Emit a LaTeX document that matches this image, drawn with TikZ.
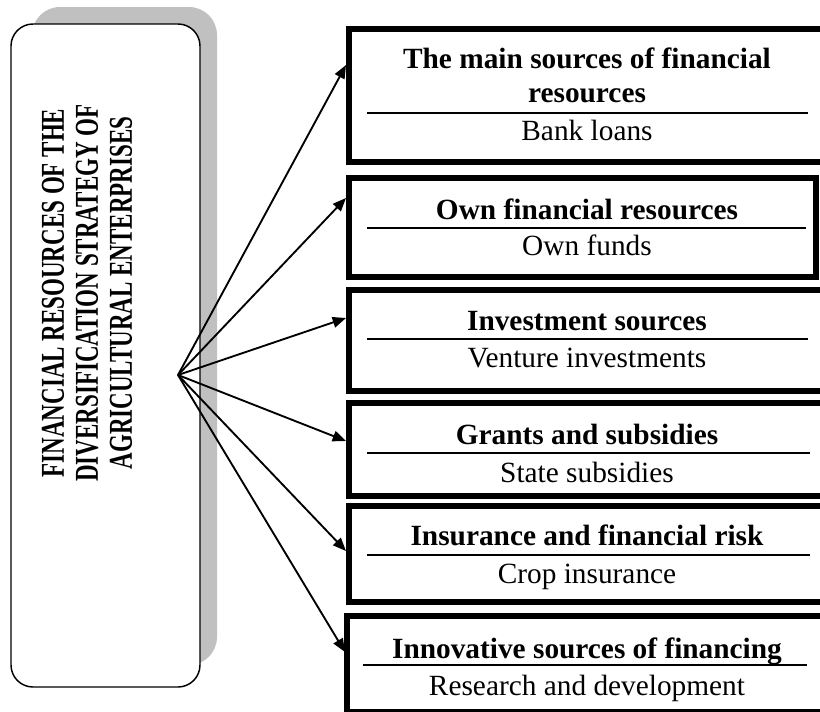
\documentclass[tikz,border=0pt]{standalone}
\usepackage{fontspec}
\setmainfont{Liberation Serif}
\usetikzlibrary{arrows.meta}
\begin{document}
\begin{tikzpicture}[x=0.75pt,y=-0.75pt,
  rbox/.style={draw, line width=4.5pt, inner sep=0pt, outer sep=0pt},
  ttl/.style={font=\fontsize{22}{25.5}\selectfont\bfseries, anchor=base, inner sep=0pt, align=center},
  sub/.style={font=\fontsize{22}{25.5}\selectfont, anchor=base, inner sep=0pt},
  divline/.style={line width=1.2pt},
  arr/.style={line width=1.4pt, -{Triangle[length=10pt,width=8pt]}},
  shadowbox/.style={fill={rgb,255:red,192;green,192;blue,192}, rounded corners=21pt, inner sep=0pt, outer sep=0pt},
  mainbox/.style={draw, fill=white, line width=1.1pt, rounded corners=16.5pt, inner sep=0pt, outer sep=0pt},
]
\useasboundingbox (0,0) rectangle (820,711);
\fill[white] (0,0) rectangle (820,711);
\clip (0,0) rectangle (820,711);

% left box with shadow
\node[shadowbox, minimum width=185*0.75pt, minimum height=658*0.75pt] (shadow) at (124.5,336) {};
\node[mainbox, minimum width=189*0.75pt, minimum height=663*0.75pt] (main) at (105.5,355.5) {};
\node[rotate=90, inner sep=0pt] (maintext) at (91,293) {\scalebox{0.69}[1]{\fontsize{25}{25.5}\selectfont\bfseries\setlength{\tabcolsep}{0pt}\begin{tabular}{c}FINANCIAL RESOURCES OF THE\\DIVERSIFICATION STRATEGY OF\\AGRICULTURAL ENTERPRISES\end{tabular}}};

% right boxes
\node[rbox, minimum width=481*0.75pt, minimum height=133*0.75pt] (b1) at (589.5,95.5) {};
\node[rbox, minimum width=467*0.75pt, minimum height=98.5*0.75pt] (b2) at (582.5,227.25) {};
\node[rbox, minimum width=481*0.75pt, minimum height=101*0.75pt] (b3) at (589.5,340.5) {};
\node[rbox, minimum width=481*0.75pt, minimum height=93*0.75pt] (b4) at (589.5,449.5) {};
\node[rbox, minimum width=481*0.75pt, minimum height=96*0.75pt] (b5) at (589.5,553.5) {};
\node[rbox, minimum width=483*0.75pt, minimum height=96.5*0.75pt] (b6) at (588.5,663.75) {};

% texts
\node[ttl] (t1a) at (587,68) {The main sources of financial};
\node[ttl] (t1b) at (587,102) {resources};
\node[sub] (s1) at (587,140) {Bank loans};
\node[ttl] (t2) at (587,219) {Own financial resources};
\node[sub] (s2) at (587,255) {Own funds};
\node[ttl] (t3) at (587,330) {Investment sources};
\node[sub] (s3) at (587,367) {Venture investments};
\node[ttl] (t4) at (587,444) {Grants and subsidies};
\node[sub] (s4) at (587,482) {State subsidies};
\node[ttl] (t5) at (587,545) {Insurance and financial risk};
\node[sub] (s5) at (587,583) {Crop insurance};
\node[ttl] (t6) at (587,658) {Innovative sources of financing};
\node[sub] (s6) at (587,695) {Research and development};

% dividers
\coordinate (d1l) at (367,113); \coordinate (d1r) at (808,113);
\coordinate (d2l) at (367,228); \coordinate (d2r) at (806,228);
\coordinate (d3l) at (367,339); \coordinate (d3r) at (808,339);
\coordinate (d4l) at (367,453); \coordinate (d4r) at (810,453);
\coordinate (d5l) at (367,555); \coordinate (d5r) at (810,555);
\coordinate (d6l) at (363,665); \coordinate (d6r) at (807,665);
\foreach \i in {1,...,6} {\draw[divline] (d\i l) -- (d\i r);}

% arrows
\coordinate (o) at (178,375);
\coordinate (a1) at (346,65);
\coordinate (a2) at (346,198);
\coordinate (a3) at (346,318);
\coordinate (a4) at (346,441);
\coordinate (a5) at (346,551);
\coordinate (a6) at (345,652);
\foreach \i in {1,...,6} {\draw[arr] (o) -- (a\i);}
\end{tikzpicture}
\end{document}
